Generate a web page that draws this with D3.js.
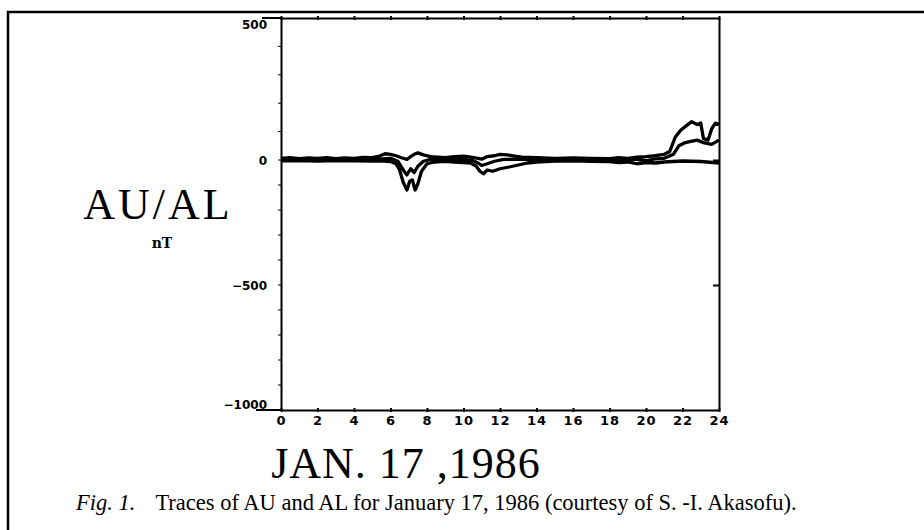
<!DOCTYPE html>
<html>
<head>
<meta charset="utf-8">
<script src="https://cdn.jsdelivr.net/npm/d3@7"></script>
<style>
  body{margin:0;background:#fff;}
  svg{display:block;}
</style>
</head>
<body>
<svg id="chart" width="924" height="530"></svg>
<script>
// hours (UT) and traces, nT
var auHours=[0,0.5,1,1.5,2,2.5,3,3.5,4,4.5,5,5.4,5.7,6.0,6.3,6.6,6.9,7.1,7.3,7.5,7.8,8.2,8.6,9,9.5,10,10.4,10.8,11.0,11.3,11.7,12.0,12.4,12.8,13.2,14,15,16,17,18,18.5,19,19.5,20,20.5,21,21.3,21.6,21.9,22.2,22.5,22.8,23.0,23.15,23.4,23.6,23.8,24];
var auValues=[6,8,5,7,6,8,5,7,6,9,8,14,22,20,15,8,2,12,20,25,18,12,10,8,12,14,10,6,3,12,15,20,18,14,10,8,6,7,6,5,8,6,10,12,15,20,30,80,105,120,135,125,130,75,70,110,130,125];

var alHours=[0,1,2,3,4,5,5.5,6.0,6.3,6.5,6.7,6.9,7.05,7.2,7.35,7.5,7.7,8.0,8.4,9,9.5,10,10.4,10.7,10.9,11.1,11.3,11.6,12,12.5,13,13.5,14,15,16,17,18,18.5,19,19.5,20,20.5,21,22,23,24];
var alValues=[-3,-2,-4,-2,-3,-4,-3,-6,-15,-40,-90,-120,-85,-80,-120,-95,-45,-15,-8,-5,-8,-10,-12,-25,-45,-55,-40,-45,-35,-28,-20,-12,-8,-4,-3,-5,-6,-10,-8,-15,-10,-12,-8,-4,-6,-12];

var aoHours=[0,1,2,3,4,5,5.5,6.0,6.4,6.7,6.9,7.1,7.3,7.5,7.8,8.2,9,10,10.5,10.8,11.0,11.3,11.7,12.2,13,14,15,16,17,18,19,19.5,20,20.5,21,21.5,21.8,22.1,22.4,22.8,23.2,23.6,24];
var aoValues=[1,2,0,2,1,2,4,6,-5,-40,-60,-35,-50,-25,-5,2,1,2,-2,-12,-22,-15,-5,2,3,1,1,2,0,0,-2,3,-3,4,6,20,50,60,65,70,60,55,70];

var xTicks=[0,2,4,6,8,10,12,14,16,18,20,22,24];
var yTicks=[500,0,-500,-1000];
var rightTicks=[0,-500];

var svg=d3.select("#chart");

var x=d3.scaleLinear().domain([0,24]).range([281,719]);
var y=d3.scaleLinear().domain([-1000,0,500]).range([410,160,18]);

// outer frame (left and top edges only visible)
svg.append("path")
	.attr("d","M8,530 L8,12 L924,12")
	.attr("fill","none")
	.attr("stroke","#000")
	.attr("stroke-width",2.5);

var tickFont="'DejaVu Sans',sans-serif";

// top axis with small crossing ticks
var topAxis=svg.append("g")
	.attr("transform","translate(0,"+y(500)+")")
	.call(d3.axisTop(x).tickValues(xTicks).tickSize(3).tickSizeOuter(0).tickFormat(""));
topAxis.selectAll(".tick line").attr("y1",2).attr("y2",-2).attr("stroke-width",2);

// bottom axis with labels
var bottomAxis=svg.append("g")
	.attr("transform","translate(0,"+y(-1000)+")")
	.call(d3.axisBottom(x).tickValues(xTicks).tickSize(3).tickSizeOuter(0).tickPadding(3).tickFormat(d3.format("d")));
bottomAxis.selectAll(".tick line").attr("y1",-2).attr("y2",2).attr("stroke-width",2);
bottomAxis.selectAll("text")
	.attr("font-family",tickFont)
	.attr("font-weight","bold")
	.attr("font-size",13)
	.attr("letter-spacing","1px")
	.attr("fill","#000");

// left axis, labels only
var leftAxis=svg.append("g")
	.attr("transform","translate("+x(0)+",0)")
	.call(d3.axisLeft(y).tickValues(yTicks).tickSize(0).tickSizeOuter(0).tickPadding(14).tickFormat(function(d){return d<0?"\u2212"+Math.abs(d):d;}));
leftAxis.selectAll("text")
	.attr("font-family",tickFont)
	.attr("font-weight","bold")
	.attr("font-size",12)
	.attr("fill","#000")
	.attr("dy",function(d){return d===500?"0.85em":(d===-1000?"-0.1em":"0.35em");});
// minor ticks on left axis
svg.append("g").selectAll("line")
	.data(d3.range(-900,500,100))
	.join("line")
	.attr("x1",x(0)-3).attr("x2",x(0))
	.attr("y1",function(d){return y(d);}).attr("y2",function(d){return y(d);})
	.attr("stroke","#000").attr("stroke-width",1);

// right axis, inward ticks
var rightAxis=svg.append("g")
	.attr("transform","translate("+x(24)+",0)")
	.call(d3.axisRight(y).tickValues(rightTicks).tickSize(-6).tickSizeOuter(0).tickFormat(""));
rightAxis.selectAll(".tick line").attr("stroke-width",2);

// plot frame, top and bottom lines extended to the left
svg.selectAll(".domain").attr("stroke","#000").attr("stroke-width",2);
svg.append("line")
	.attr("x1",262).attr("x2",x(0))
	.attr("y1",y(500)).attr("y2",y(500))
	.attr("stroke","#000").attr("stroke-width",2);
svg.append("line")
	.attr("x1",256).attr("x2",x(0))
	.attr("y1",y(-1000)).attr("y2",y(-1000))
	.attr("stroke","#000").attr("stroke-width",2);

// traces
var line=d3.line()
	.x(function(d){return x(d[0]);})
	.y(function(d){return y(d[1]);});

var traces=[
	d3.zip(auHours,auValues),
	d3.zip(aoHours,aoValues),
	d3.zip(alHours,alValues)
];
svg.append("g").selectAll("path")
	.data(traces)
	.join("path")
	.attr("d",line)
	.attr("fill","none")
	.attr("stroke","#000")
	.attr("stroke-width",3.3)
	.attr("stroke-linejoin","round");

// y label
svg.append("text")
	.attr("x",158).attr("y",219)
	.attr("text-anchor","middle")
	.attr("font-family","'Liberation Serif',serif")
	.attr("font-size",44)
	.attr("letter-spacing","3px")
	.text("AU/AL");
svg.append("text")
	.attr("x",162).attr("y",248)
	.attr("text-anchor","middle")
	.attr("font-family","'DejaVu Serif',serif")
	.attr("font-weight","bold")
	.attr("font-size",14)
	.text("nT");

// x label
svg.append("text")
	.attr("x",406).attr("y",478)
	.attr("text-anchor","middle")
	.attr("font-family","'Liberation Serif',serif")
	.attr("font-size",44)
	.attr("letter-spacing","1px")
	.text("JAN. 17 ,1986");

// caption
var cap=svg.append("text")
	.attr("x",76).attr("y",510)
	.attr("font-family","'Liberation Serif',serif")
	.attr("font-size",22.5);
cap.append("tspan").attr("font-style","italic").text("Fig. 1.");
cap.append("tspan").attr("dx",20).text("Traces of AU and AL for January 17, 1986 (courtesy of S. -I. Akasofu).");
</script>
</body>
</html>
